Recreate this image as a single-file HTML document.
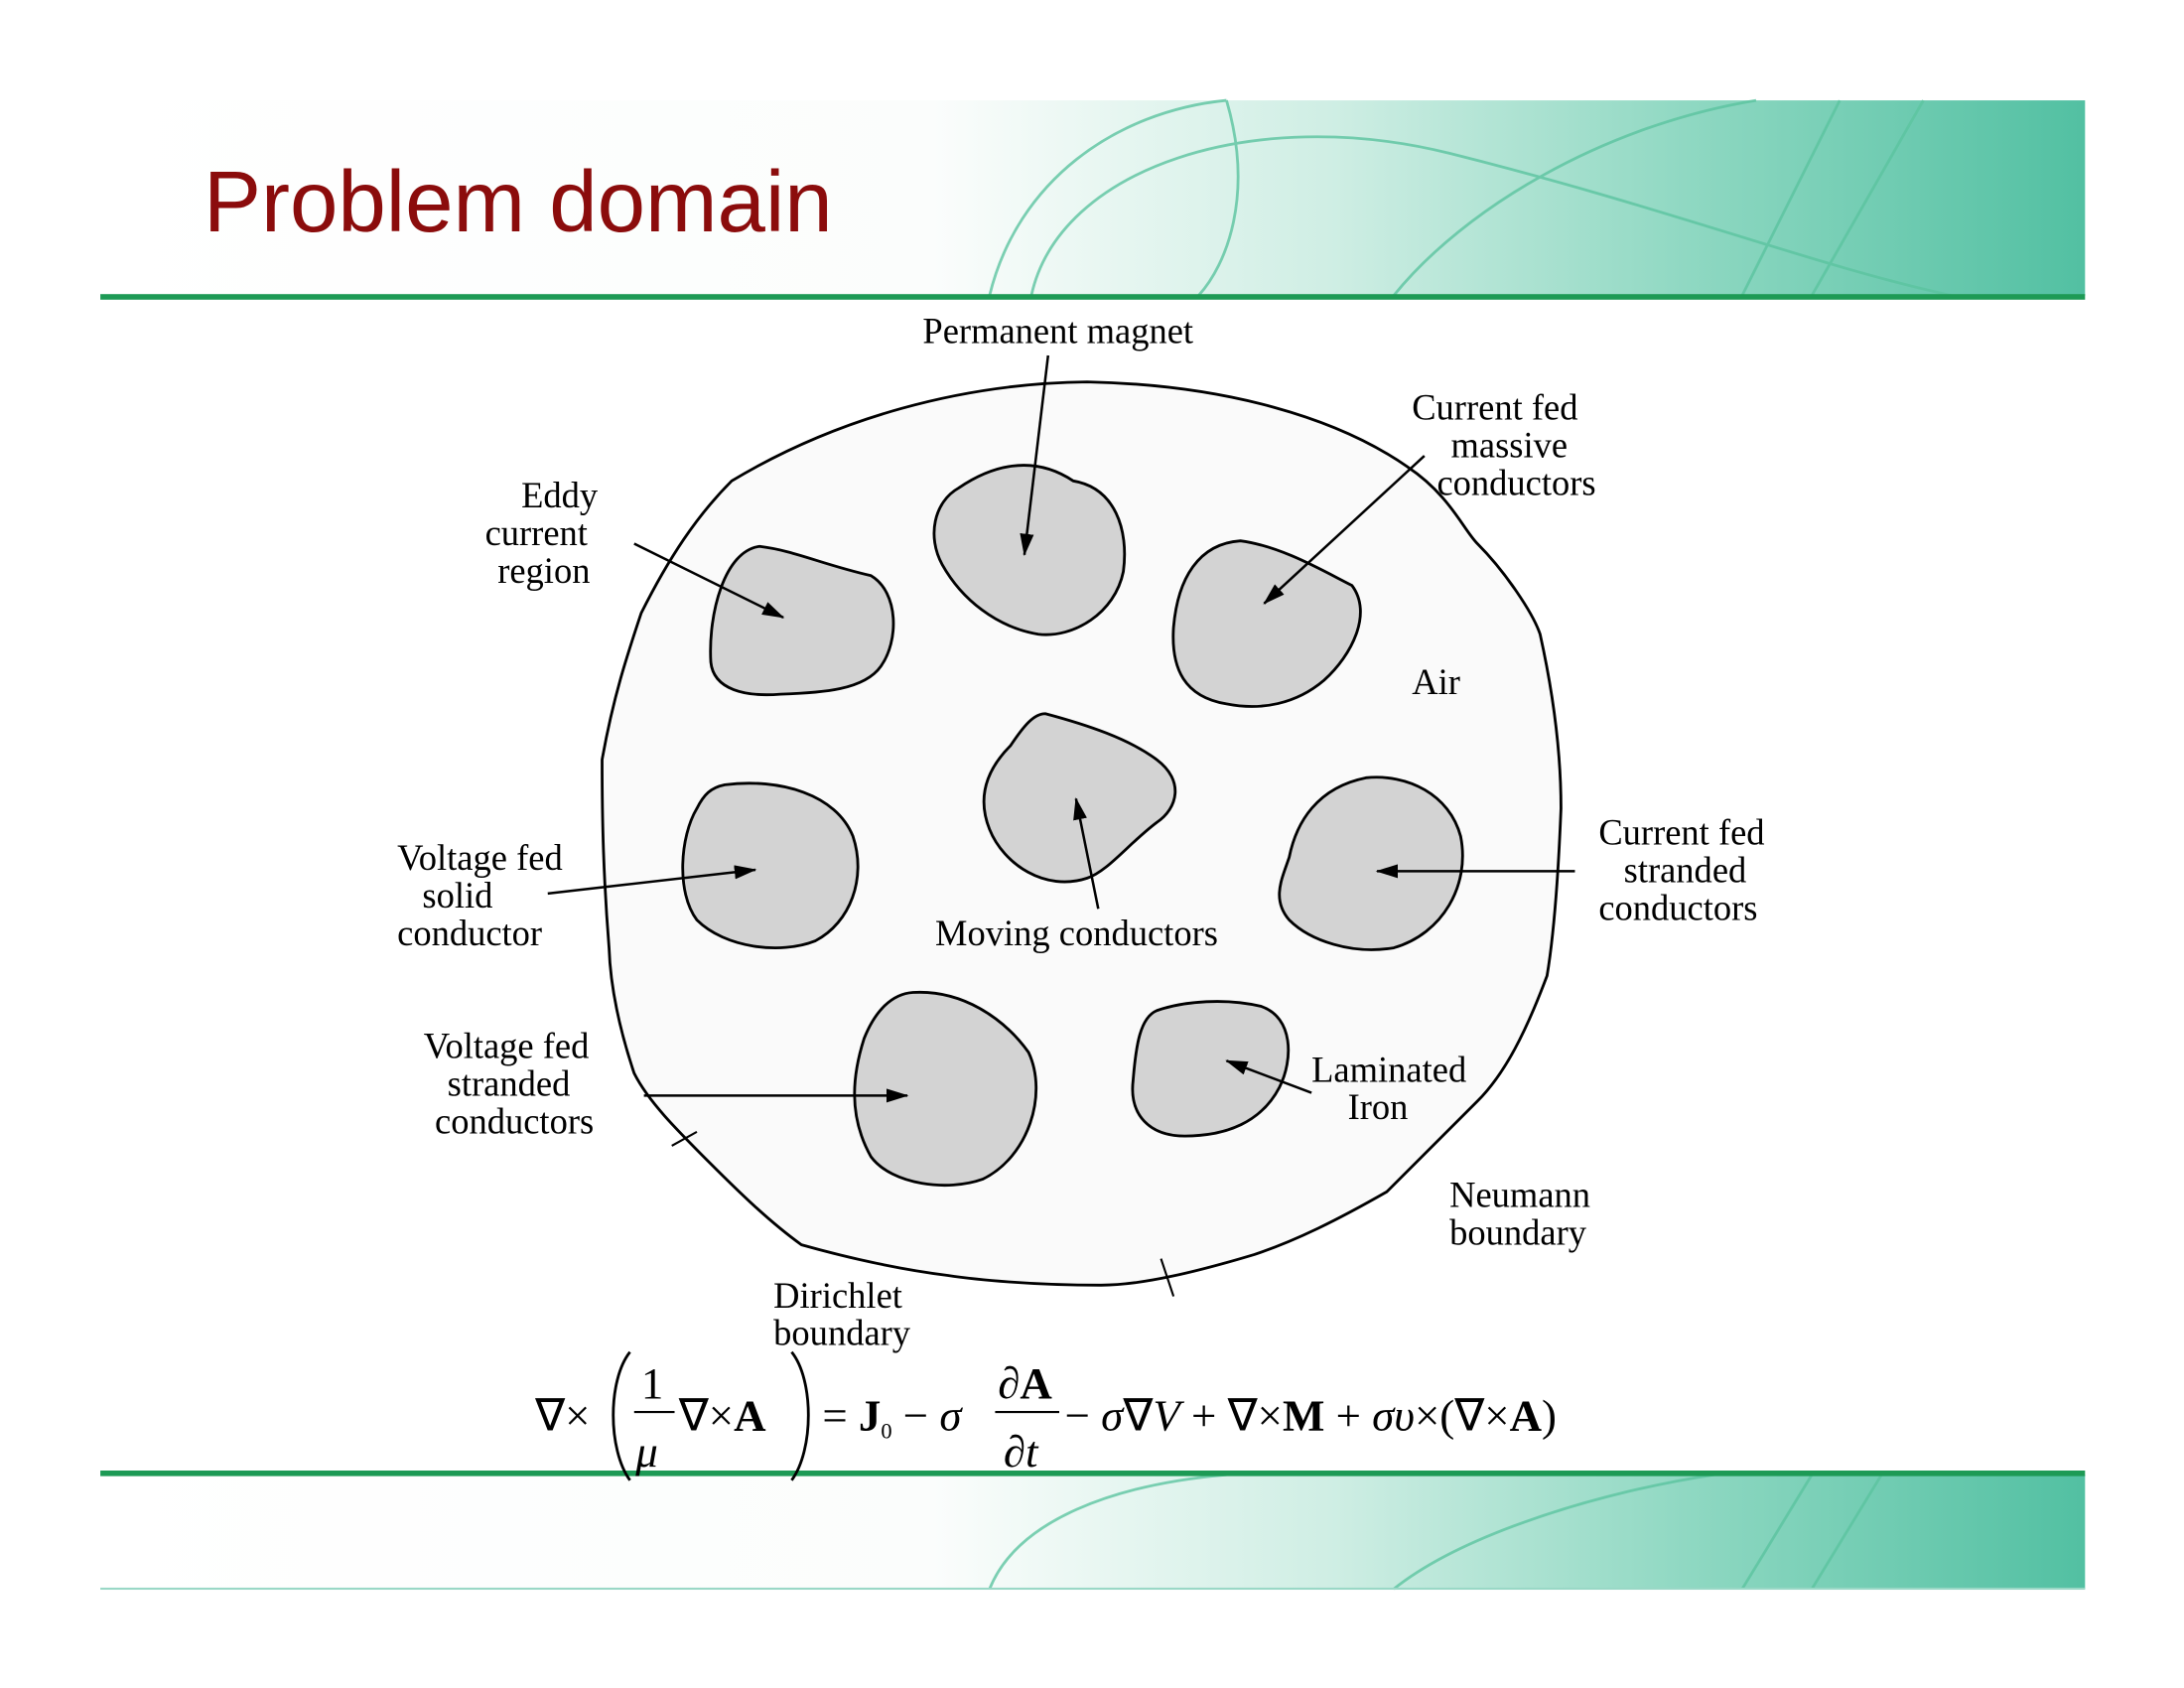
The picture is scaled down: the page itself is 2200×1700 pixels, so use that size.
<!DOCTYPE html>
<html><head><meta charset="utf-8"><style>
html,body{margin:0;padding:0;background:#fff;}
svg{display:block;}
text{font-family:"Liberation Serif",serif;font-size:26px;fill:#000;}
</style></head><body>
<svg width="2200" height="1700" viewBox="0 0 1567 1211" preserveAspectRatio="none" xmlns="http://www.w3.org/2000/svg">
<defs>
<linearGradient id="g" x1="0" x2="1" y1="0" y2="0">
<stop offset="0" stop-color="#ffffff"/>
<stop offset="0.42" stop-color="#fbfdfc"/>
<stop offset="0.62" stop-color="#cfeee4"/>
<stop offset="0.8" stop-color="#8fd8c2"/>
<stop offset="1" stop-color="#52c0a2"/>
</linearGradient>
<marker id="a" markerWidth="16" markerHeight="10" refX="15" refY="5" orient="auto" markerUnits="userSpaceOnUse">
<path d="M0,0 L16,5 L0,10 Z" fill="#000"/>
</marker>
</defs>
<rect width="1567" height="1211" fill="#fff"/>
<!-- header -->
<rect x="72" y="72" width="1424" height="140" fill="url(#g)"/>
<g fill="none" stroke="#5cc4a0" stroke-width="2" opacity="0.8">
<path d="M710,212 C730,130 800,80 880,72"/>
<path d="M740,212 C760,120 900,75 1040,110 C1200,150 1300,190 1400,212"/>
<path d="M1000,212 C1050,150 1150,90 1260,72"/>
<path d="M1250,212 L1320,72"/>
<path d="M1300,212 L1380,72"/>
<path d="M880,72 C900,140 880,190 860,212"/>
</g>
<rect x="72" y="211" width="1424" height="4" fill="#1d9a55"/>
<text x="146" y="166" style="font-family:'Liberation Sans',sans-serif;font-size:62px;fill:#8b0c0c">Problem domain</text>
<!-- footer -->
<rect x="72" y="1058" width="1424" height="82" fill="url(#g)"/>
<g fill="none" stroke="#5cc4a0" stroke-width="2" opacity="0.8">
<path d="M710,1140 C730,1090 800,1065 880,1058"/>
<path d="M1000,1140 C1050,1100 1150,1070 1230,1058"/>
<path d="M1250,1140 L1300,1058"/>
<path d="M1300,1140 L1350,1058"/>
</g>
<rect x="72" y="1055" width="1424" height="4" fill="#1d9a55"/>
<rect x="72" y="1139" width="1424" height="1.5" fill="#9ad8c6"/>
<!-- boundary -->
<path d="M525,345 C600,300 690,275 780,274 C880,276 960,300 1010,335 C1040,355 1050,380 1060,390 C1080,410 1100,440 1105,455 C1115,500 1120,540 1120,580 C1118,630 1115,670 1110,700 C1095,740 1080,770 1060,790 C1035,815 1010,840 995,855 C960,875 930,890 900,900 C860,912 820,922 790,922 C740,922 700,918 680,915 C640,910 600,900 575,893 C550,875 525,850 510,835 C485,810 465,790 455,770 C445,740 438,710 437,680 C433,630 432,590 432,545 C440,500 450,470 460,440 C480,400 500,370 525,345 Z" fill="#fafafa" stroke="#000" stroke-width="2"/>
<line x1="482" y1="822" x2="500" y2="812" stroke="#000" stroke-width="1.5"/>
<line x1="833" y1="903" x2="842" y2="930" stroke="#000" stroke-width="1.5"/>
<!-- blobs -->
<g fill="#d3d3d3" stroke="#000" stroke-width="2">
<path d="M688,350 C710,335 740,325 770,345 C800,350 810,380 806,410 C800,440 770,458 745,455 C715,450 690,430 676,405 C665,385 670,360 688,350 Z"/>
<path d="M545,392 C570,395 590,405 625,413 C645,425 645,460 632,478 C620,495 590,497 560,498 C535,500 512,495 510,475 C508,440 520,395 545,392 Z"/>
<path d="M890,388 C920,392 950,410 970,420 C985,440 970,470 950,488 C930,505 905,510 880,505 C850,500 840,480 842,450 C845,415 860,390 890,388 Z"/>
<path d="M750,512 C780,520 810,530 830,545 C850,560 845,580 830,590 C810,605 795,625 780,630 C750,640 720,620 710,595 C700,570 710,550 725,535 C735,520 742,512 750,512 Z"/>
<path d="M520,563 C560,558 600,570 612,600 C622,630 610,662 585,675 C560,685 520,680 500,660 C485,640 488,600 500,580 C505,570 510,565 520,563 Z"/>
<path d="M980,558 C1010,555 1040,570 1048,600 C1055,635 1035,670 1000,680 C970,685 940,675 925,660 C912,645 920,630 925,615 C930,590 945,565 980,558 Z"/>
<path d="M655,712 C690,710 720,730 738,755 C752,785 738,830 705,846 C680,855 640,850 625,830 C608,800 612,770 620,745 C628,725 640,713 655,712 Z"/>
<path d="M830,725 C850,718 880,716 905,722 C928,730 928,760 918,780 C905,805 880,815 850,815 C825,815 810,800 813,775 C815,750 818,730 830,725 Z"/>
</g>
<!-- arrows -->
<g stroke="#000" stroke-width="1.8" fill="none" marker-end="url(#a)">
<line x1="752" y1="255" x2="735" y2="398"/>
<line x1="455" y1="390" x2="562" y2="443"/>
<line x1="1022" y1="327" x2="907" y2="433"/>
<line x1="788" y1="652" x2="772" y2="573"/>
<line x1="393" y1="641" x2="542" y2="624"/>
<line x1="1130" y1="625" x2="988" y2="625"/>
<line x1="462" y1="786" x2="651" y2="786"/>
<line x1="941" y1="784" x2="880" y2="761"/>
</g>
<!-- labels -->
<text x="662" y="246">Permanent magnet</text>
<text x="1013" y="301">Current fed</text>
<text x="1041" y="328">massive</text>
<text x="1031" y="355">conductors</text>
<text x="374" y="364">Eddy</text>
<text x="348" y="391">current</text>
<text x="357" y="418">region</text>
<text x="1013" y="498">Air</text>
<text x="285" y="624">Voltage fed</text>
<text x="303" y="651">solid</text>
<text x="285" y="678">conductor</text>
<text x="1147" y="606">Current fed</text>
<text x="1165" y="633">stranded</text>
<text x="1147" y="660">conductors</text>
<text x="671" y="678">Moving conductors</text>
<text x="304" y="759">Voltage fed</text>
<text x="321" y="786">stranded</text>
<text x="312" y="813">conductors</text>
<text x="941" y="776">Laminated</text>
<text x="967" y="803">Iron</text>
<text x="1040" y="866">Neumann</text>
<text x="1040" y="893">boundary</text>
<text x="555" y="938">Dirichlet</text>
<text x="555" y="965">boundary</text>
<!-- equation -->
<g style="font-size:32px">
<text x="384" y="1026" style="font-size:32px">∇×</text>
<path d="M452,970 C436,990 436,1040 452,1062" stroke="#000" stroke-width="2" fill="none"/>
<text x="460" y="1003" style="font-size:32px">1</text>
<line x1="455" y1="1013" x2="484" y2="1013" stroke="#000" stroke-width="1.5"/>
<text x="456" y="1052" style="font-size:32px;font-style:italic">μ</text>
<text x="487" y="1026" style="font-size:32px">∇×<tspan font-weight="bold">A</tspan></text>
<path d="M568,970 C584,990 584,1040 568,1062" stroke="#000" stroke-width="2" fill="none"/>
<text x="590" y="1026" style="font-size:32px">= <tspan font-weight="bold">J</tspan><tspan font-size="16" dy="6">0</tspan><tspan dy="-6"> − </tspan><tspan font-style="italic">σ</tspan></text>
<text x="716" y="1003" style="font-size:32px">∂<tspan font-weight="bold">A</tspan></text>
<line x1="714" y1="1013" x2="760" y2="1013" stroke="#000" stroke-width="1.5"/>
<text x="720" y="1052" style="font-size:32px">∂<tspan font-style="italic">t</tspan></text>
<text x="764" y="1026" style="font-size:32px">− <tspan font-style="italic">σ</tspan>∇<tspan font-style="italic">V</tspan> + ∇×<tspan font-weight="bold">M</tspan> + <tspan font-style="italic">συ</tspan>×(∇×<tspan font-weight="bold">A</tspan>)</text>
</g>
</svg>
</body></html>
